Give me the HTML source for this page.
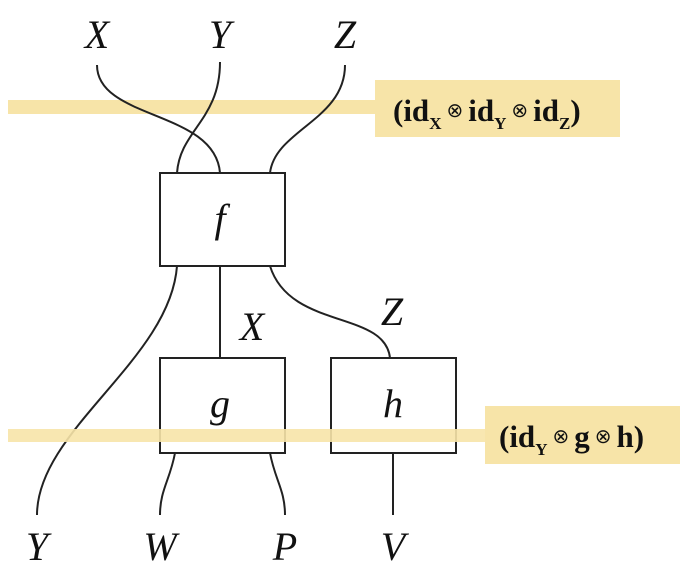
<!DOCTYPE html>
<html><head><style>body{margin:0;background:#fff}</style></head><body>
<svg width="682" height="576" xmlns="http://www.w3.org/2000/svg" font-family="Liberation Serif, serif">
<rect x="8" y="100" width="370" height="14" fill="#f7e4a8"/>
<rect x="375" y="80" width="245" height="57" fill="#f7e4a8"/>
<g fill="none" stroke="#222" stroke-width="2">
<path d="M97,65 C97,120 215,110 220,173"/>
<path d="M220,62 C220,120 180,130 177,173"/>
<path d="M345,65 C345,120 275,130 270,173"/>
<path d="M177,266 C170,360 37,430 37,515"/>
<path d="M220,266 L220,358"/>
<path d="M270,266 C290,330 385,310 390,358"/>
<path d="M175,453 C170,480 160,490 160,515"/>
<path d="M270,453 C275,480 285,490 285,515"/>
<path d="M393,453 L393,515"/>
<rect x="160" y="173" width="125" height="93" fill="#fff"/>
<rect x="160" y="358" width="125" height="95" fill="none"/>
<rect x="331" y="358" width="125" height="95" fill="none"/>
</g>
<rect x="8" y="429" width="480" height="13" fill="#f7e4a8" opacity="0.9"/>
<rect x="485" y="406" width="195" height="58" fill="#f7e4a8"/>
<g font-style="italic" font-size="40" text-anchor="middle" fill="#111">
<text x="97" y="48">X</text><text x="220" y="48">Y</text><text x="345" y="48">Z</text>
<text x="220" y="232">f</text><text x="220" y="417">g</text><text x="393" y="417">h</text>
<text x="252" y="340">X</text><text x="392" y="325">Z</text>
<text x="37" y="560">Y</text><text x="160" y="560">W</text><text x="285" y="560">P</text><text x="393" y="560">V</text>
</g>
<g font-weight="bold" font-size="31" fill="#111">
<text x="393" y="121">(id<tspan font-size="17" dy="8">X</tspan><tspan font-size="20" font-weight="normal" dy="-12"> ⊗ </tspan><tspan dy="4">id</tspan><tspan font-size="17" dy="8">Y</tspan><tspan font-size="20" font-weight="normal" dy="-12"> ⊗ </tspan><tspan dy="4">id</tspan><tspan font-size="17" dy="8">Z</tspan><tspan dy="-8">)</tspan></text>
<text x="499" y="447">(id<tspan font-size="17" dy="8">Y</tspan><tspan font-size="20" font-weight="normal" dy="-12"> ⊗ </tspan><tspan dy="4">g</tspan><tspan font-size="20" font-weight="normal" dy="-4"> ⊗ </tspan><tspan dy="4">h)</tspan></text>
</g>
</svg>
</body></html>
